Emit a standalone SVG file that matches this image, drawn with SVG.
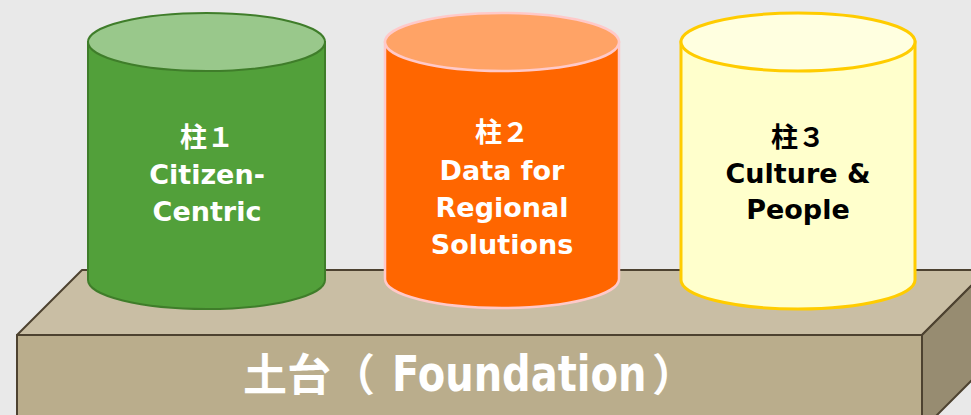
<svg xmlns="http://www.w3.org/2000/svg" width="971" height="415" viewBox="0 0 971 415">
  <style>
    .edge { stroke: #4D4230; stroke-width: 2; stroke-linejoin: round; }
    .lbl { font-family: "DejaVu Sans", "Noto Sans CJK JP", sans-serif; font-weight: bold; font-size: 27px; text-anchor: middle; }
    .base { font-family: "DejaVu Sans", "Noto Sans CJK JP", sans-serif; font-weight: bold; fill: #FFFFFF; }
    .white { fill: #FFFFFF; }
    .black { fill: #000000; }
  </style>
  <rect x="0" y="0" width="971" height="415" fill="#E9E9E9"/>

  <!-- base block -->
  <g id="foundation">
    <polygon class="edge" points="17,335 82,270 987,270 922,335" fill="#C9BEA4"/>
    <polygon class="edge" points="922,335 987,270 987,365 922,430" fill="#978C71"/>
    <rect class="edge" x="17" y="335" width="905" height="95" fill="#BAAD8C"/>
    <text class="base" x="243" y="391" font-size="44">土台（</text>
    <!-- condensed Latin part of the caption -->
    <text class="base" transform="translate(392,391) scale(0.8,1)" font-size="50">Foundation</text>
    <text class="base" x="652" y="391" font-size="44">）</text>
  </g>

  <!-- pillar 1 -->
  <g id="pillar1">
    <path d="M88,42 L88,280 A118.5,29 0 0 0 325,280 L325,42 Z" fill="#52A03A" stroke="#3F7D2A" stroke-width="2"/>
    <ellipse cx="206.5" cy="42" rx="118.5" ry="29" fill="#99C88B" stroke="#3F7D2A" stroke-width="2"/>
    <text class="lbl white" x="207" y="147">柱１</text>
    <text class="lbl white" x="207" y="184">Citizen-</text>
    <text class="lbl white" x="207" y="221">Centric</text>
  </g>

  <!-- pillar 2 -->
  <g id="pillar2">
    <path d="M385,42 L385,279 A117,29 0 0 0 619,279 L619,42 Z" fill="#FF6600" stroke="#FFC9C9" stroke-width="2.5"/>
    <ellipse cx="502" cy="42" rx="117" ry="29" fill="#FFA366" stroke="#FFC9C9" stroke-width="2.5"/>
    <text class="lbl white" x="502" y="142">柱２</text>
    <text class="lbl white" x="502" y="180">Data for</text>
    <text class="lbl white" x="502" y="217">Regional</text>
    <text class="lbl white" x="502" y="254">Solutions</text>
  </g>

  <!-- pillar 3 -->
  <g id="pillar3">
    <path d="M681,42 L681,280 A117,29 0 0 0 915,280 L915,42 Z" fill="#FFFFCC" stroke="#FFCC00" stroke-width="3"/>
    <ellipse cx="798" cy="42" rx="117" ry="29" fill="#FFFFE0" stroke="#FFCC00" stroke-width="3"/>
    <text class="lbl black" x="798" y="147">柱３</text>
    <text class="lbl black" x="798" y="183">Culture &amp;</text>
    <text class="lbl black" x="798" y="219">People</text>
  </g>
</svg>
